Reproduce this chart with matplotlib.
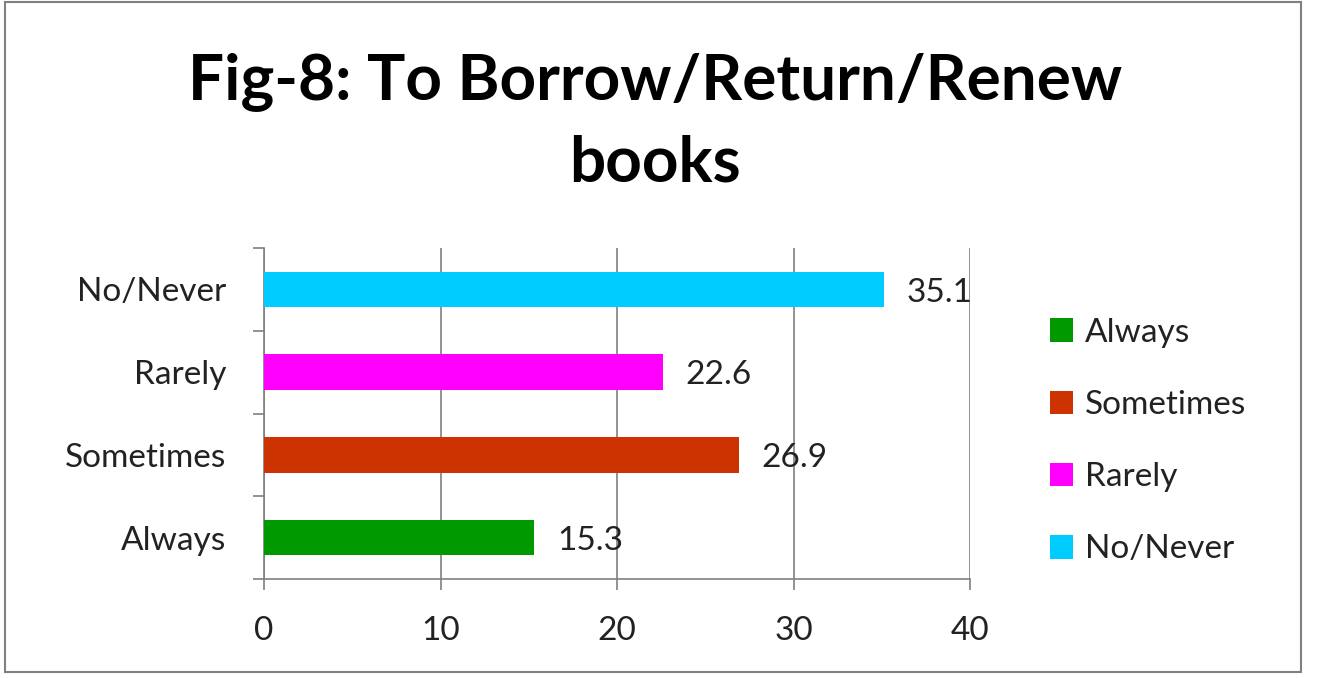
import matplotlib
matplotlib.use("Agg")
import matplotlib.pyplot as plt
from matplotlib.patches import Rectangle, Patch
import numpy as np

categories = ["Always", "Sometimes", "Rarely", "No/Never"]
values = [15.3, 26.9, 22.6, 35.1]
colors = ["#009900", "#CC3300", "#FF00FF", "#00CCFF"]
xticks = [0, 10, 20, 30, 40]
title_lines = ["Fig-8: To Borrow/Return/Renew", "books"]

W, H = 1323, 678
fig = plt.figure(figsize=(W / 100, H / 100), dpi=100)
plt.rcParams['font.family'] = ['Lato', 'DejaVu Sans']
FS = 24

# outer border
fig.patches.append(Rectangle((5 / W, 1 - 672 / H), 1296 / W, 670 / H,
                             transform=fig.transFigure, fill=False,
                             edgecolor="#808080", linewidth=1.5))

left, right, top, bottom = 264, 970, 248, 579
ax = fig.add_axes([left / W, 1 - bottom / H, (right - left) / W, (bottom - top) / H])

y = np.arange(len(categories))
ax.barh(y, values, height=0.43, color=colors, zorder=3)
ax.set_xlim(0, 40)
ax.set_ylim(-0.5, len(categories) - 0.5)
ax.set_xticks(xticks)
ax.set_xticklabels([str(t) for t in xticks], fontsize=FS, color="#222222")
ax.set_yticks(y)
ax.set_yticklabels(categories, fontsize=FS, color="#222222")
ax.tick_params(axis='y', length=0, pad=27)
ax.set_yticks(np.arange(-0.5, len(categories), 1), minor=True)
ax.tick_params(axis='y', which='minor', length=8, color="#808080", width=1.2)
ax.tick_params(axis='x', length=8, color="#808080", width=1.2, pad=19)
ax.xaxis.grid(True, color="#808080", linewidth=1.2, zorder=0)
for s in ["top", "right"]:
    ax.spines[s].set_visible(False)
for s in ["left", "bottom"]:
    ax.spines[s].set_color("#808080")
    ax.spines[s].set_linewidth(1.2)

for yi, v in zip(y, values):
    ax.text(v + 1.3, yi - 0.04, f"{v}", va="center", ha="left", fontsize=FS,
            color="#222222", zorder=4)

handles = [Patch(facecolor=c, label=l) for c, l in zip(colors, categories)]
fig.legend(handles=handles, loc="center left", bbox_to_anchor=(1020 / W, 1 - 441 / H),
           frameon=False, fontsize=FS, handlelength=0.7, handleheight=0.7,
           handletextpad=0.35, labelspacing=1.27, labelcolor="#222222")

for line, base in zip(title_lines, [99, 182]):
    fig.text(655 / W, 1 - base / H, line, ha="center", va="baseline",
             fontsize=46, fontweight="bold", color="#000000")

fig.savefig("out.png", dpi=100)
